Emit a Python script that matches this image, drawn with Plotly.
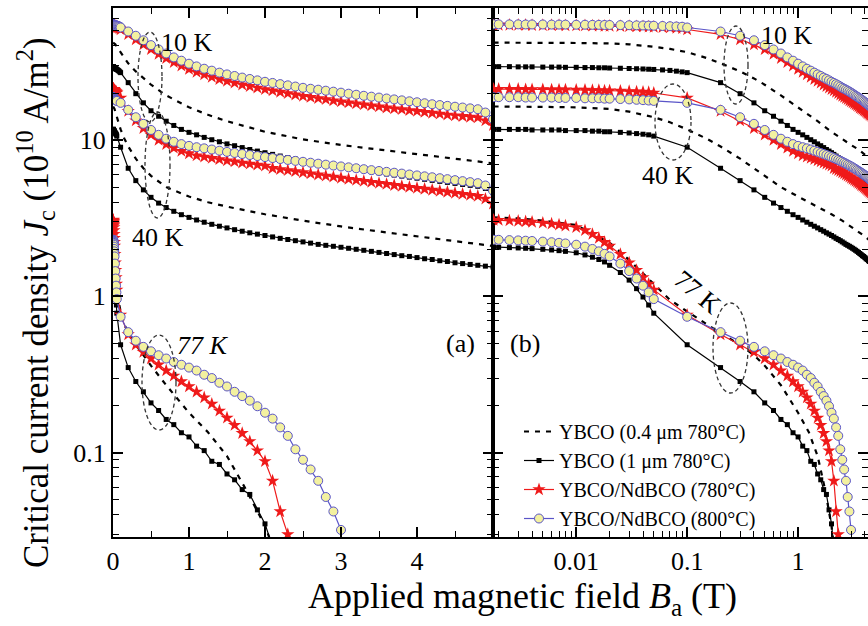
import plotly.graph_objects as go

# ---------------- field grids (T) ----------------
B_FINE_10K = [0.0018, 0.002, 0.0025, 0.003, 0.0035, 0.004, 0.005, 0.006, 0.007, 0.008,
              0.01, 0.012, 0.014, 0.016, 0.018, 0.02, 0.025, 0.03, 0.035, 0.04,
              0.045, 0.05, 0.06, 0.07, 0.08, 0.09]
B_FINE = [0.0018, 0.002, 0.0025, 0.003, 0.0035, 0.004, 0.005, 0.006, 0.007, 0.008,
          0.01, 0.012, 0.014, 0.016, 0.018, 0.02, 0.025, 0.03, 0.035, 0.04,
          0.045, 0.05]
B_STEP = [0.1, 0.2, 0.3, 0.4, 0.5, 0.6, 0.7, 0.8, 0.9, 1.0,
          1.1, 1.2, 1.3, 1.4, 1.5, 1.6, 1.7, 1.8, 1.9, 2.0,
          2.1, 2.2, 2.3, 2.4, 2.5, 2.6, 2.7, 2.8, 2.9, 3.0,
          3.1, 3.2, 3.3, 3.4, 3.5, 3.6, 3.7, 3.8, 3.9, 4.0,
          4.1, 4.2, 4.3, 4.4, 4.5, 4.6, 4.7, 4.8, 4.9, 5.0]
B_DASH = [0.0018, 0.003, 0.005, 0.01, 0.02, 0.03, 0.05, 0.07, 0.1, 0.15, 0.2, 0.3, 0.4,
          0.5, 0.7, 1.0, 1.25, 1.5, 2.0, 2.5, 3.0, 3.5, 4.0, 4.5, 5.0]
B_DASH_77K = [0.0018, 0.003, 0.005, 0.01, 0.02, 0.03, 0.05, 0.07, 0.1, 0.15, 0.2, 0.3,
              0.4, 0.5, 0.7, 1.0, 1.25, 1.5, 1.75, 2.0, 2.1]

# ---------------- Jc (10^10 A/m^2) ----------------
# YBCO (0.4 um 780C) – dashed
D04_10K = [42.0, 42.0, 41.9, 41.8, 41.5, 41.0, 39.5, 38.3, 36.5, 33.5, 31.0, 27.5, 24.8,
           22.6, 19.3, 16.2, 14.5, 13.2, 11.3, 10.1, 9.3, 8.7, 8.1, 7.6, 7.1]
D04_40K = [16.4, 16.4, 16.3, 16.2, 15.8, 15.2, 14.0, 13.0, 11.7, 10.2, 9.1, 7.6, 6.6,
           5.9, 5.0, 4.35, 4.0, 3.75, 3.35, 3.05, 2.8, 2.6, 2.42, 2.25, 2.1]
D04_77K = [3.2, 3.15, 3.05, 2.86, 2.2, 1.71, 1.2, 0.95, 0.8, 0.66, 0.58, 0.49, 0.42,
           0.36, 0.27, 0.18, 0.135, 0.095, 0.058, 0.034, 0.025]

# YBCO (1 um 780C)
B1_10K_LOW = [29.5, 29.5, 29.5, 29.4, 29.4, 29.4, 29.3, 29.3, 29.3, 29.2, 29.2, 29.1, 29.1,
              29.0, 29.0, 28.9, 28.8, 28.7, 28.6, 28.5, 28.4, 28.3, 28.1, 27.9, 27.6, 27.3]
B1_10K_HIGH = [27.0, 23.3, 19.8, 17.3, 15.4, 14.2, 13.2, 12.4, 11.7, 11.2,
               10.8, 10.4, 10.05, 9.75, 9.45, 9.2, 8.95, 8.7, 8.5, 8.3,
               8.1, 7.9, 7.72, 7.55, 7.4, 7.25, 7.1, 6.97, 6.84, 6.72,
               6.6, 6.49, 6.38, 6.27, 6.17, 6.07, 5.97, 5.88, 5.79, 5.7,
               5.61, 5.52, 5.44, 5.36, 5.28, 5.2, 5.13, 5.06, 4.9, 4.6]
B1_40K_LOW = [11.7, 11.7, 11.7, 11.7, 11.7, 11.6, 11.6, 11.6, 11.6, 11.5, 11.5, 11.5, 11.4,
              11.4, 11.3, 11.3, 11.2, 11.1, 11.0, 10.9, 10.8, 10.6]
B1_40K_HIGH = [9.0, 6.6, 5.5, 4.8, 4.3, 3.95, 3.7, 3.5, 3.33, 3.2,
               3.08, 2.98, 2.89, 2.81, 2.74, 2.67, 2.61, 2.55, 2.5, 2.45,
               2.4, 2.35, 2.31, 2.27, 2.23, 2.19, 2.15, 2.12, 2.09, 2.06,
               2.03, 2.0, 1.97, 1.94, 1.91, 1.88, 1.85, 1.82, 1.8, 1.77,
               1.74, 1.72, 1.69, 1.67, 1.64, 1.62, 1.6, 1.58, 1.56, 1.54]
B1_77K_LOW = [2.07, 2.06, 2.05, 2.04, 2.03, 2.02, 2.0, 1.98, 1.96, 1.94, 1.9, 1.84, 1.78,
              1.72, 1.66, 1.58, 1.42, 1.27, 1.12, 0.99, 0.88, 0.78]
B1_77K_HIGH = [0.49, 0.35, 0.285, 0.245, 0.208, 0.186, 0.163, 0.151, 0.134, 0.126,
               0.11, 0.103, 0.088, 0.084, 0.073, 0.067, 0.058, 0.054, 0.043, 0.035, 0.025]

# YBCO/NdBCO (780C)
R780_10K_LOW = [54.5, 54.5, 54.5, 54.4, 54.4, 54.3, 54.3, 54.2, 54.2, 54.1, 54.0, 54.0, 53.9,
                53.8, 53.7, 53.6, 53.5, 53.4, 53.3, 53.2, 53.0, 52.9, 52.7, 52.4, 52.1, 51.8]
R780_10K_HIGH = [51.0, 47.5, 44.0, 40.8, 38.0, 35.5, 33.3, 31.4, 29.8, 28.4,
                 27.2, 26.2, 25.3, 24.5, 23.8, 23.2, 22.6, 22.1, 21.6, 21.1,
                 20.7, 20.3, 19.9, 19.5, 19.1, 18.8, 18.5, 18.2, 17.9, 17.6,
                 17.35, 17.1, 16.85, 16.6, 16.35, 16.1, 15.9, 15.7, 15.5, 15.3,
                 15.1, 14.9, 14.7, 14.5, 14.35, 14.2, 14.05, 13.9, 13.3, 12.4]
R780_40K_LOW = [21.2, 21.2, 21.2, 21.2, 21.1, 21.1, 21.1, 21.0, 21.0, 21.0, 20.9, 20.9, 20.8,
                20.8, 20.7, 20.7, 20.6, 20.5, 20.4, 20.3, 20.2, 20.0]
R780_40K_HIGH = [18.6, 15.3, 13.3, 11.9, 10.8, 10.0, 9.4, 8.9, 8.5, 8.2,
                 7.95, 7.8, 7.66, 7.52, 7.39, 7.27, 7.15, 7.04, 6.93, 6.83,
                 6.6, 6.5, 6.4, 6.3, 6.2, 6.1, 6.0, 5.9, 5.81, 5.72,
                 5.63, 5.54, 5.46, 5.38, 5.3, 5.22, 5.14, 5.07, 5.0, 4.93,
                 4.86, 4.79, 4.72, 4.65, 4.58, 4.51, 4.44, 4.38, 4.2, 3.9]
R780_77K_LOW = [3.08, 3.07, 3.05, 3.03, 3.01, 2.99, 2.95, 2.91, 2.87, 2.83, 2.76, 2.64, 2.5,
                2.36, 2.22, 2.1, 1.86, 1.64, 1.47, 1.32, 1.2, 1.1]
R780_77K_HIGH = [0.76, 0.57, 0.49, 0.44, 0.4, 0.365, 0.335, 0.31, 0.285, 0.265,
                 0.245, 0.225, 0.205, 0.185, 0.167, 0.15, 0.133, 0.118, 0.103, 0.088,
                 0.066, 0.042, 0.03]

# YBCO/NdBCO (800C)
Y800_10K_LOW = [55.0, 55.0, 55.0, 55.0, 54.9, 54.9, 54.9, 54.8, 54.8, 54.8, 54.7, 54.7, 54.6,
                54.6, 54.5, 54.5, 54.4, 54.3, 54.2, 54.1, 54.0, 53.9, 53.7, 53.5, 53.3, 53.1]
Y800_10K_HIGH = [52.5, 49.5, 46.5, 43.5, 40.5, 38.0, 35.8, 33.8, 32.2, 30.8,
                 29.6, 28.6, 27.8, 27.0, 26.3, 25.7, 25.1, 24.6, 24.1, 23.6,
                 23.2, 22.8, 22.4, 22.0, 21.6, 21.3, 21.0, 20.7, 20.4, 20.1,
                 19.8, 19.5, 19.2, 18.95, 18.7, 18.45, 18.2, 17.95, 17.7, 17.45,
                 17.2, 16.95, 16.75, 16.55, 16.35, 16.15, 15.95, 15.75, 15.0, 13.6]
Y800_40K_LOW = [18.8, 18.8, 18.8, 18.8, 18.7, 18.7, 18.7, 18.7, 18.6, 18.6, 18.6, 18.5, 18.5,
                18.5, 18.4, 18.4, 18.3, 18.2, 18.1, 18.0, 17.9, 17.8]
Y800_40K_HIGH = [17.3, 15.6, 14.0, 12.7, 11.6, 10.8, 10.2, 9.75, 9.42, 9.18,
                 9.0, 8.85, 8.7, 8.55, 8.4, 8.27, 8.14, 8.02, 7.9, 7.78,
                 7.67, 7.56, 7.46, 7.36, 7.26, 7.16, 7.06, 6.96, 6.87, 6.78,
                 6.69, 6.6, 6.51, 6.42, 6.34, 6.26, 6.18, 6.1, 6.02, 5.94,
                 5.86, 5.78, 5.7, 5.62, 5.54, 5.46, 5.38, 5.3, 5.12, 4.75]
Y800_77K_LOW = [2.3, 2.3, 2.29, 2.28, 2.27, 2.26, 2.24, 2.22, 2.2, 2.18, 2.14, 2.08, 2.01,
                1.94, 1.87, 1.8, 1.62, 1.45, 1.3, 1.17, 1.06, 0.96]
Y800_77K_HIGH = [0.74, 0.59, 0.52, 0.475, 0.445, 0.42, 0.4, 0.38, 0.365, 0.35,
                 0.335, 0.315, 0.3, 0.28, 0.265, 0.245, 0.23, 0.215, 0.198, 0.18,
                 0.165, 0.145, 0.128, 0.105, 0.09, 0.078, 0.066, 0.052, 0.042, 0.032]

LEGEND_NAMES = ["YBCO (0.4 μm 780°C)", "YBCO (1 μm 780°C)",
                "YBCO/NdBCO (780°C)", "YBCO/NdBCO (800°C)"]
Y_TICKS = [0.1, 1, 10]
Y_TICK_TEXT = ["0.1", "1", "10"]
X1_TICKS = [0, 1, 2, 3, 4]
X2_TICKS = [0.01, 0.1, 1]
X2_TICK_TEXT = ["0.01", "0.1", "1"]

# ---------------- layout geometry ----------------
W, H = 868, 626
ML, MR, MT, MB = 113, 0, 8, 89
PW, PH = W - ML - MR, H - MT - MB
SPLIT = (493 - ML) / PW
FONT = "Liberation Serif, Times New Roman, serif"


def pxx(x):
    return (x - ML) / PW


def pxy(y):
    return (H - MB - y) / PH


STYLES = [
    dict(mode="lines", line=dict(color="black", width=2.2, dash="5px,6px")),
    dict(mode="lines+markers", line=dict(color="black", width=1.2),
         marker=dict(symbol="square", size=5, color="black", line=dict(width=0))),
    dict(mode="lines+markers", line=dict(color="#ef1a1a", width=1.2),
         marker=dict(symbol="star", size=10, color="#ef1a1a", line=dict(width=0))),
    dict(mode="lines+markers", line=dict(color="#5a55c8", width=1.2),
         marker=dict(symbol="circle", size=9, color="#f3f1a0",
                     line=dict(color="#5a55c8", width=1))),
]

CURVES = [
    (0, [(B_DASH, D04_10K), (B_DASH, D04_40K), (B_DASH_77K, D04_77K)]),
    (1, [(B_FINE_10K + B_STEP[:len(B1_10K_HIGH)], B1_10K_LOW + B1_10K_HIGH),
         (B_FINE + B_STEP[:len(B1_40K_HIGH)], B1_40K_LOW + B1_40K_HIGH),
         (B_FINE + B_STEP[:len(B1_77K_HIGH)], B1_77K_LOW + B1_77K_HIGH)]),
    (2, [(B_FINE_10K + B_STEP[:len(R780_10K_HIGH)], R780_10K_LOW + R780_10K_HIGH),
         (B_FINE + B_STEP[:len(R780_40K_HIGH)], R780_40K_LOW + R780_40K_HIGH),
         (B_FINE + B_STEP[:len(R780_77K_HIGH)], R780_77K_LOW + R780_77K_HIGH)]),
    (3, [(B_FINE_10K + B_STEP[:len(Y800_10K_HIGH)], Y800_10K_LOW + Y800_10K_HIGH),
         (B_FINE + B_STEP[:len(Y800_40K_HIGH)], Y800_40K_LOW + Y800_40K_HIGH),
         (B_FINE + B_STEP[:len(Y800_77K_HIGH)], Y800_77K_LOW + Y800_77K_HIGH)]),
]

fig = go.Figure()
for idx, curves in CURVES:
    for k, (bx, jy) in enumerate(curves):
        for xa, ya in (("x", "y"), ("x2", "y2")):
            fig.add_trace(go.Scatter(
                x=bx, y=jy, xaxis=xa, yaxis=ya, name=LEGEND_NAMES[idx],
                legendgroup=str(idx), showlegend=(k == 0 and xa == "x"),
                hoverinfo="skip", **STYLES[idx]))

axis_common = dict(showline=True, linecolor="black", linewidth=2, mirror="ticks",
                   ticks="inside", ticklen=10, tickwidth=1.6, tickcolor="black",
                   showgrid=False, zeroline=False, automargin=False,
                   tickfont=dict(family=FONT, size=26, color="black"))

minor_y = [0.03, 0.04, 0.05, 0.06, 0.07, 0.08, 0.09,
           0.2, 0.3, 0.4, 0.5, 0.6, 0.7, 0.8, 0.9,
           2, 3, 4, 5, 6, 7, 8, 9, 20, 30, 40, 50, 60]
minor_x2 = [0.002, 0.003, 0.004, 0.005, 0.006, 0.007, 0.008, 0.009,
            0.02, 0.03, 0.04, 0.05, 0.06, 0.07, 0.08, 0.09,
            0.2, 0.3, 0.4, 0.5, 0.6, 0.7, 0.8, 0.9, 2, 3, 4]
minor_style = dict(ticks="inside", ticklen=6, tickwidth=1.3, tickcolor="black", showgrid=False)

fig.update_layout(
    width=W, height=H, margin=dict(l=ML, r=MR, t=MT, b=MB, autoexpand=False),
    paper_bgcolor="white", plot_bgcolor="white",
    font=dict(family=FONT, color="black"),
    xaxis=dict(domain=[0, SPLIT], range=[0, 5], tickmode="array", tickvals=X1_TICKS,
               ticklabelstandoff=0,
               minor=dict(tickmode="array", tickvals=[0.5, 1.5, 2.5, 3.5, 4.5], **minor_style),
               **axis_common),
    xaxis2=dict(domain=[SPLIT, 1], type="log", range=[-2.75, 0.63], anchor="y2",
                tickmode="array", tickvals=X2_TICKS, ticktext=X2_TICK_TEXT,
                ticklabelstandoff=0,
                minor=dict(tickmode="array", tickvals=minor_x2, **minor_style),
                **axis_common),
    yaxis=dict(type="log", range=[-1.54, 1.845], tickmode="array", tickvals=Y_TICKS,
               ticktext=Y_TICK_TEXT, ticklabelstandoff=0,
               minor=dict(tickmode="array", tickvals=minor_y, **minor_style),
               **axis_common),
    yaxis2=dict(type="log", range=[-1.54, 1.845], anchor="x2", matches="y",
                tickmode="array", tickvals=Y_TICKS, showticklabels=False,
                minor=dict(tickmode="array", tickvals=minor_y, **minor_style),
                **axis_common),
    legend=dict(x=pxx(519), y=pxy(412), xanchor="left", yanchor="top",
                bgcolor="rgba(0,0,0,0)", borderwidth=0, tracegroupgap=0,
                font=dict(family=FONT, size=20, color="black")),
    showlegend=True,
)

ann_font = dict(family=FONT, size=26, color="black")
labels = [
    ("10 K", 187, 43, 0, ann_font),
    ("40 K", 158, 237, 0, ann_font),
    ("<i>77 K</i>", 203, 345, 0, ann_font),
    ("(a)", 460, 343, 0, ann_font),
    ("(b)", 525, 343, 0, ann_font),
    ("10 K", 787, 35, 0, ann_font),
    ("40 K", 668, 175, 0, ann_font),
    ("77 K", 698, 292, 40, ann_font),
    ("Applied magnetic field <i>B</i><sub>a</sub> (T)", 522, 598, 0,
     dict(family=FONT, size=36, color="black")),
    ("Critical current density <i>J</i><sub>c</sub> (10<sup>10</sup> A/m<sup>2</sup>)",
     35, 303, -90, dict(family=FONT, size=35, color="black")),
]
for text, cx, cy, ang, f in labels:
    fig.add_annotation(text=text, x=pxx(cx), y=pxy(cy), xref="paper", yref="paper",
                       showarrow=False, xanchor="center", yanchor="middle",
                       textangle=ang, font=f)

ellipses = [(138, 162, 32, 122), (145, 170, 112, 218), (142, 176, 335, 430),
            (724, 748, 26, 104), (655, 691, 84, 160), (713, 748, 303, 393)]
for x0, x1, y0, y1 in ellipses:
    fig.add_shape(type="circle", xref="paper", yref="paper",
                  x0=pxx(x0), x1=pxx(x1), y0=pxy(y1), y1=pxy(y0),
                  line=dict(color="#333333", width=1.3, dash="4px,3px"))

fig.write_html("out.html", config={"displayModeBar": False},
               post_script="document.body.style.margin='0';document.body.style.padding='0';")
